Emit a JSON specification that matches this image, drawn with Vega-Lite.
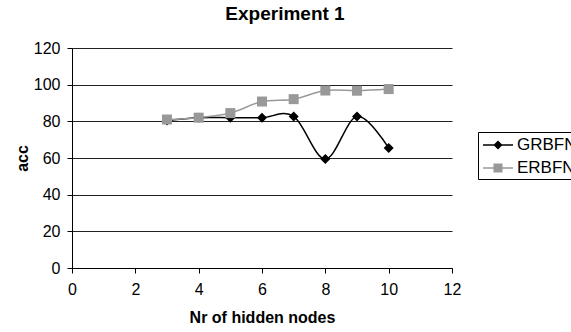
{
  "$schema": "https://vega.github.io/schema/vega-lite/v6.json",
  "width": 380,
  "height": 220,
  "autosize": "none",
  "padding": {"left": 72, "top": 48, "right": 119, "bottom": 64},
  "background": "white",
  "title": {"text": "Experiment 1", "font": "Liberation Sans", "fontSize": 19, "fontWeight": "bold", "color": "#000000", "anchor": "middle", "dx": 23, "offset": 16},
  "data": {"values": [
    {"nodes": 3, "acc": 80.5, "series": "GRBFN"},
    {"nodes": 4, "acc": 82, "series": "GRBFN"},
    {"nodes": 5, "acc": 82, "series": "GRBFN"},
    {"nodes": 6, "acc": 82, "series": "GRBFN"},
    {"nodes": 7, "acc": 82.7, "series": "GRBFN"},
    {"nodes": 8, "acc": 59.4, "series": "GRBFN"},
    {"nodes": 9, "acc": 82.7, "series": "GRBFN"},
    {"nodes": 10, "acc": 65.5, "series": "GRBFN"},
    {"nodes": 3, "acc": 81, "series": "ERBFN"},
    {"nodes": 4, "acc": 82, "series": "ERBFN"},
    {"nodes": 5, "acc": 84.5, "series": "ERBFN"},
    {"nodes": 6, "acc": 90.8, "series": "ERBFN"},
    {"nodes": 7, "acc": 92.1, "series": "ERBFN"},
    {"nodes": 8, "acc": 96.8, "series": "ERBFN"},
    {"nodes": 9, "acc": 96.7, "series": "ERBFN"},
    {"nodes": 10, "acc": 97.6, "series": "ERBFN"}
  ]},
  "encoding": {
    "x": {"field": "nodes", "type": "quantitative", "scale": {"domain": [0, 12], "nice": false},
      "axis": {"values": [0, 2, 4, 6, 8, 10, 12], "title": "Nr of hidden nodes", "grid": false,
        "domainColor": "#000000", "tickColor": "#000000", "tickSize": 5, "labelPadding": 8,
        "labelFont": "Liberation Sans", "labelFontSize": 16, "labelColor": "#000000",
        "titleFont": "Liberation Sans", "titleFontSize": 16, "titleFontWeight": "bold", "titleColor": "#000000", "titlePadding": 12}},
    "y": {"field": "acc", "type": "quantitative", "scale": {"domain": [0, 120], "nice": false},
      "axis": {"values": [0, 20, 40, 60, 80, 100, 120], "title": "acc", "grid": true, "gridColor": "#222222", "gridOpacity": 1, "gridWidth": 1,
        "domainColor": "#000000", "tickColor": "#000000", "tickSize": 5, "labelPadding": 7,
        "labelFont": "Liberation Sans", "labelFontSize": 16, "labelColor": "#000000",
        "titleFont": "Liberation Sans", "titleFontSize": 16, "titleFontWeight": "bold", "titleColor": "#000000", "titlePadding": 3}},
    "color": {"field": "series", "type": "nominal", "scale": {"domain": ["GRBFN", "ERBFN"], "range": ["#000000", "#999999"]},
      "legend": {"orient": "none", "legendX": 406, "legendY": 84, "title": null, "strokeColor": "#000000", "fillColor": "#ffffff",
        "padding": 3, "symbolSize": 324, "symbolOffset": 7, "labelOffset": 9, "rowPadding": 5,
        "labelFont": "Liberation Sans", "labelFontSize": 17, "labelColor": "#000000",
        "encode": {"symbols": {"update": {
          "fill": {"scale": "color", "field": "value"},
          "stroke": {"scale": "color", "field": "value"},
          "size": {"value": 324},
          "strokeWidth": {"value": 1.5},
          "opacity": {"value": 1}
        }}}}}
  },
  "layer": [
    {"mark": {"type": "line", "interpolate": "cardinal", "strokeWidth": 1.5}},
    {"transform": [{"filter": "datum.series === 'GRBFN'"}],
      "mark": {"type": "point", "shape": "diamond", "filled": true, "size": 100, "opacity": 1}},
    {"transform": [{"filter": "datum.series === 'ERBFN'"}],
      "mark": {"type": "point", "shape": "square", "filled": true, "size": 100, "opacity": 1}},
    {"mark": {"type": "point", "filled": true, "size": 0, "opacity": 1},
      "encoding": {"shape": {"field": "series", "type": "nominal",
        "scale": {"domain": ["GRBFN", "ERBFN"], "range": ["M-1.667,0H1.667M-0.39,0L0,-0.39L0.39,0L0,0.39Z", "M-1.667,0H1.667M-0.42,-0.42H0.42V0.42H-0.42Z"]},
        "legend": {"orient": "none", "legendX": 406, "legendY": 84, "title": null}}}}
  ],
  "config": {"view": {"stroke": null}, "axis": {"labelFlush": false, "labelOverlap": false}}
}
